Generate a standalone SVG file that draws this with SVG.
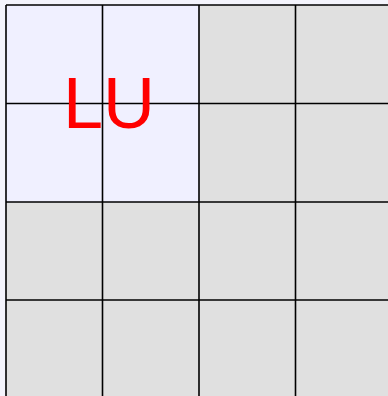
<svg xmlns="http://www.w3.org/2000/svg" width="388" height="396" viewBox="0 0 388 396">
<style>
.g{fill:#e0e0e0}
.lu{fill:#f0f0ff}
.ln{stroke:#000;stroke-width:1.6;fill:none}
.t{font-family:"Liberation Sans",Arial,sans-serif;font-size:72px;fill:#ff0000}
</style>
<rect x="0" y="0" width="388" height="396" fill="#f4f4fc"/>
<g id="cells">
<rect class="g" x="6" y="5" width="386" height="393"/>
<rect class="lu" x="6" y="5" width="193" height="197"/>
</g>
<g id="grid" class="ln">
<line x1="6" y1="5" x2="6" y2="396"/>
<line x1="102.5" y1="5" x2="102.5" y2="396"/>
<line x1="199" y1="5" x2="199" y2="396"/>
<line x1="295.5" y1="5" x2="295.5" y2="396"/>
<line x1="6" y1="5" x2="388" y2="5"/>
<line x1="6" y1="103.5" x2="388" y2="103.5"/>
<line x1="6" y1="202" x2="388" y2="202"/>
<line x1="6" y1="300" x2="388" y2="300"/>
</g>
<g id="label"><text class="t" x="63" y="128">LU</text></g>
</svg>
